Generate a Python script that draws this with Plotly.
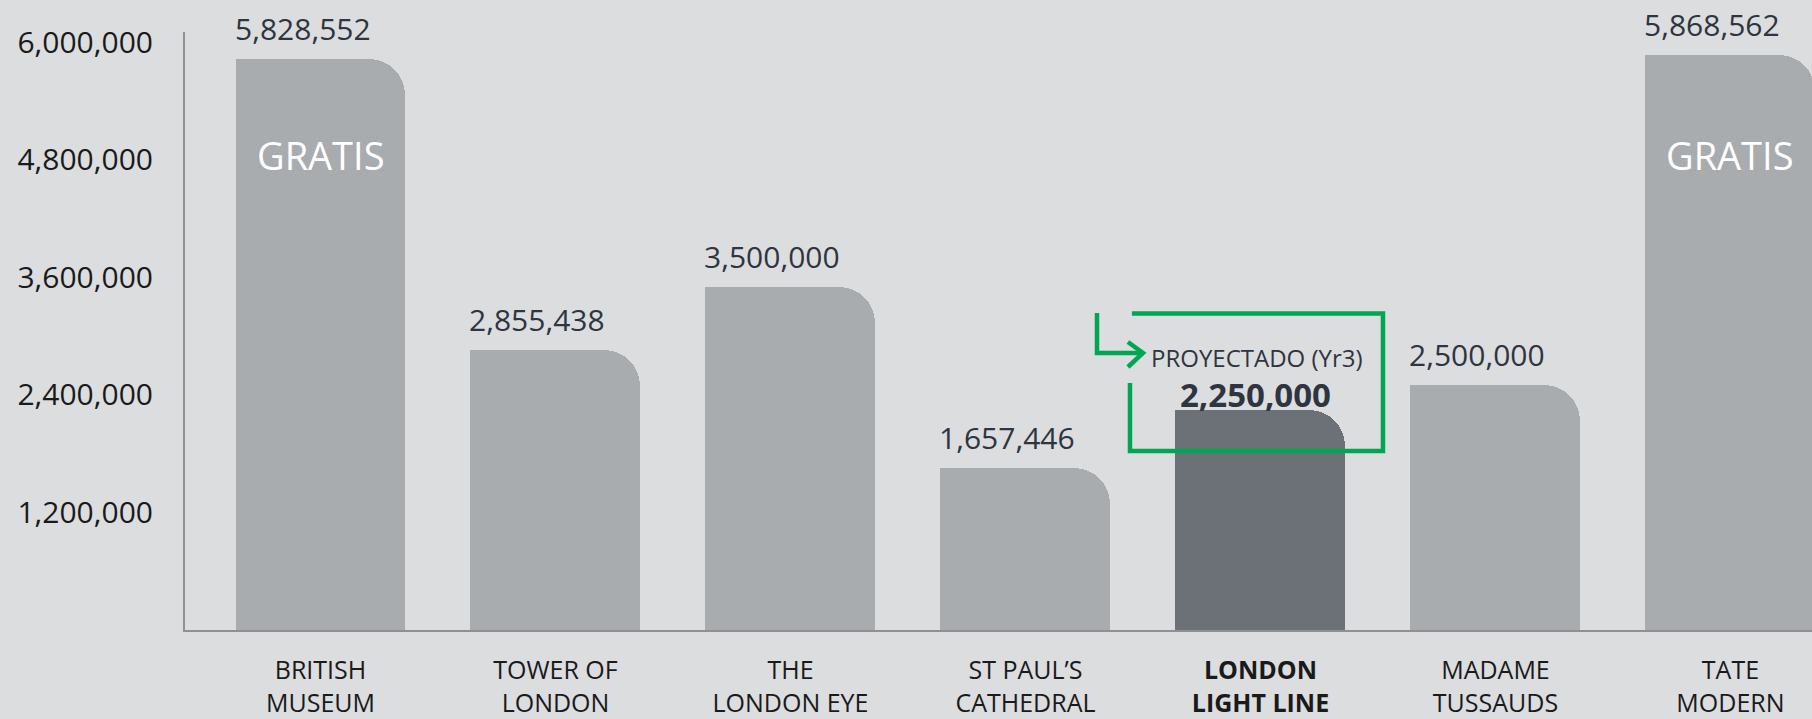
import plotly.graph_objects as go

categories = ["BRITISH<br>MUSEUM", "TOWER OF<br>LONDON", "THE<br>LONDON EYE",
              "ST PAUL’S<br>CATHEDRAL", "<b>LONDON<br>LIGHT LINE</b>",
              "MADAME<br>TUSSAUDS", "TATE<br>MODERN"]
values = [5828552, 2855438, 3500000, 1657446, 2250000, 2500000, 5868562]
free_flags = [True, False, False, False, False, False, True]
highlight_index = 4
tick_values = [1200000, 2400000, 3600000, 4800000, 6000000]

BG = "#dcdddf"
BAR = "#a9acaf"
BAR_DARK = "#6c7077"
GREEN = "#00a651"
TXT = "#2e3540"
AXIS = "#8e9094"
FONT = "Open Sans"

W = 0.7234
xs = list(range(len(categories)))
colors = [BAR_DARK if i == highlight_index else BAR for i in xs]

fig = go.Figure()
# full-width bar with rounded top corners
fig.add_trace(go.Bar(x=xs, y=values, width=W, marker=dict(color=colors, line=dict(width=0), cornerradius=36),
                     hoverinfo="y", showlegend=False))
# left half without rounding -> only top-right corner stays rounded
fig.add_trace(go.Bar(x=xs, y=values, width=W / 2, offset=-W / 2,
                     marker=dict(color=colors, line=dict(width=0)), hoverinfo="skip", showlegend=False))

annotations = []
for i, v in enumerate(values):
    if i == highlight_index:
        continue
    annotations.append(dict(x=i - W / 2, y=v, xref="x", yref="y", text=f"{v:,}", showarrow=False,
                            xanchor="left", yanchor="bottom", yshift=8, xshift=-3,
                            font=dict(family=FONT, size=30, color=TXT)))
    if free_flags[i]:
        annotations.append(dict(x=i, y=4850000, xref="x", yref="y", text="GRATIS", showarrow=False,
                                font=dict(family=FONT, size=38, color="white")))

hi = highlight_index
annotations.append(dict(x=hi - 0.016, y=2788000, xref="x", yref="y", text="PROYECTADO (Yr3)", showarrow=False,
                        font=dict(family=FONT, size=24, color=TXT)))
annotations.append(dict(x=hi - 0.023, y=2410000, xref="x", yref="y", text=f"<b>{values[hi]:,}</b>",
                        showarrow=False, font=dict(family=FONT, size=33, color=TXT)))

# projected box & arrow (decoration, relative to the highlighted bar)
bx0, bx1, bx_top0 = hi - 0.5553, hi + 0.5213, hi - 0.547
by_top, by_bot, by_left_top = 3232000, 1828000, 2522000
ax_v, ay_top, ay_mid, ax_tip = hi - 0.6957, 3237000, 2829000, hi - 0.50
chev_x, chev_y0, chev_y1 = hi - 0.564, 2941000, 2686000
shapes = [
    dict(type="path", xref="x", yref="y",
         path=f"M {bx_top0} {by_top} L {bx1} {by_top} L {bx1} {by_bot} L {bx0} {by_bot} L {bx0} {by_left_top}",
         line=dict(color=GREEN, width=4.5), layer="above"),
    dict(type="path", xref="x", yref="y",
         path=f"M {ax_v} {ay_top} L {ax_v} {ay_mid} L {ax_tip} {ay_mid}",
         line=dict(color=GREEN, width=4.5), layer="above"),
    dict(type="path", xref="x", yref="y",
         path=f"M {chev_x} {chev_y0} L {ax_tip} {ay_mid} L {chev_x} {chev_y1}",
         line=dict(color=GREEN, width=4.5), layer="above"),
]

fig.update_layout(
    width=1812, height=719,
    margin=dict(l=185, r=0, t=32, b=89),
    paper_bgcolor=BG, plot_bgcolor=BG,
    barmode="overlay", bargap=0,
    annotations=annotations, shapes=shapes,
    font=dict(family=FONT),
)
fig.update_xaxes(range=[-0.5766, 6.347], tickvals=xs, ticktext=categories, showgrid=False, zeroline=False,
                 showline=True, linecolor=AXIS, linewidth=2, ticks="", ticklabelstandoff=17,
                 tickfont=dict(family=FONT, size=25, color="#1a1a1a"), fixedrange=True, automargin=False)
fig.update_yaxes(range=[0, 6107000], tickvals=tick_values, tickformat=",d", showgrid=False, zeroline=False,
                 showline=True, linecolor=AXIS, linewidth=2, ticks="", ticklabelstandoff=24,
                 tickfont=dict(family=FONT, size=30, color="#1a1a1a"), fixedrange=True, automargin=False)

fig.write_html("out.html", config={"displayModeBar": False},
               post_script="document.body.style.margin='0';document.body.style.overflow='hidden';"
                           "document.body.style.background='" + BG + "';")
